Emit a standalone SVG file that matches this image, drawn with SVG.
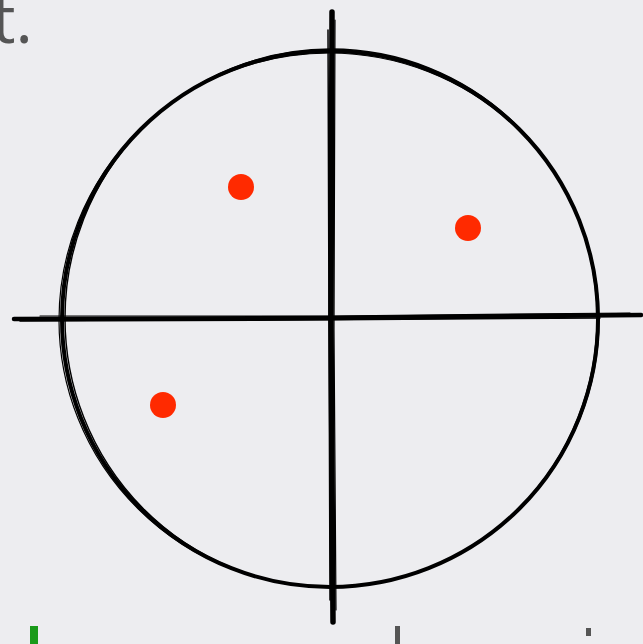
<svg xmlns="http://www.w3.org/2000/svg" width="643" height="644" viewBox="0 0 643 644">
<style>
.ink{fill:none;stroke:#000;stroke-linecap:round}
.dot{fill:#ff2a00}
.txt{font-family:"Open Sans","Liberation Sans",sans-serif;font-weight:400}
</style>
<rect width="643" height="644" fill="#ededf0"/>
<text class="txt" x="-8" y="43" font-size="66" fill="#555">t.</text>
<g id="axes">
<path class="ink" stroke-width="4.5" d="M14 319 L330 318 L641 315"/>
<path class="ink" stroke-width="1.5" d="M20 321 L300 320 L600 318"/>
<path class="ink" stroke-width="1.2" d="M40 316 L330 316 L630 313"/>
<path class="ink" stroke-width="5.5" d="M332 12 L331 320 L333 622"/>
<path class="ink" stroke-width="1.5" d="M328 30 L329 320 L330 600"/>
<path class="ink" stroke-width="1.2" d="M335 20 L334 330 L336 610"/>
</g>
<g id="circle">
<circle class="ink" cx="330" cy="319" r="268" stroke-width="4"/>
<ellipse class="ink" cx="331" cy="318" rx="266" ry="269" stroke-width="1.4"/>
<ellipse class="ink" cx="329" cy="320" rx="270" ry="267" stroke-width="1.2"/>
</g>
<g id="dots">
<circle class="dot" cx="241" cy="187" r="13"/>
<circle class="dot" cx="468" cy="228" r="13"/>
<circle class="dot" cx="163" cy="405" r="13"/>
</g>
<rect x="30" y="626" width="8" height="20" fill="#1a9a1a"/>
<rect x="395" y="626" width="5" height="20" fill="#555"/>
<rect x="586" y="628" width="5" height="8" fill="#555"/>
</svg>
